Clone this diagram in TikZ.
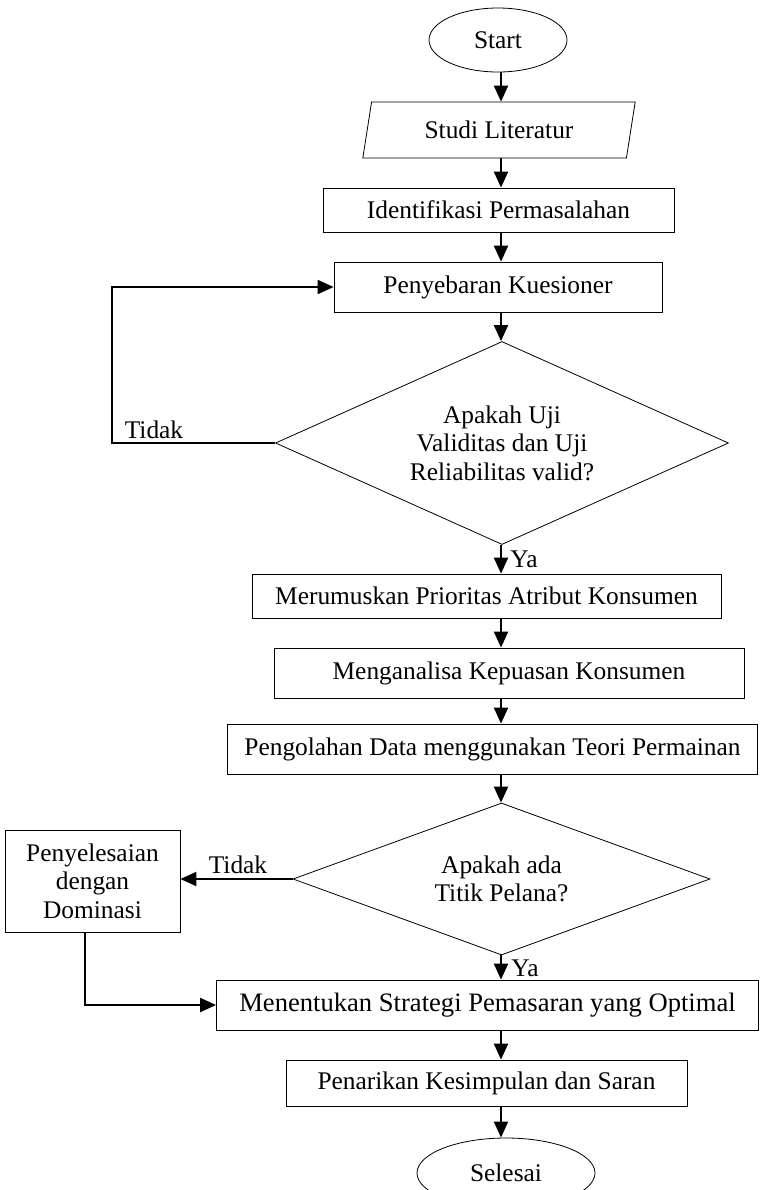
\documentclass[tikz,border=0pt]{standalone}
\usepackage{fontspec}
\setmainfont{Liberation Serif}
\usepackage{tikz}
\usetikzlibrary{shapes.geometric,arrows.meta}
\tikzset{
  txt/.style={font=\fontsize{12.7}{14.25}\selectfont},
  box/.style={rectangle, draw, thin, inner sep=0pt, txt},
  terminal/.style={ellipse, draw, thin, inner sep=0pt, txt},
  io/.style={trapezium, trapezium left angle=74, trapezium right angle=106, trapezium stretches=true, draw, thin, inner sep=0pt, txt},
  decision/.style={diamond, draw, thin, align=center, inner sep=0pt, txt},
  answer/.style={inner sep=0pt, txt},
  arrow/.style={line width=1pt, -{Triangle[length=8pt,width=7pt]}}
}
\begin{document}
\begin{tikzpicture}[x=0.5pt, y=-0.5pt]
  \useasboundingbox (0,0) rectangle (760,1190);
  % Nodes
  \node (start) [terminal, minimum width=69pt, minimum height=32pt] at (498,40) {Start};
  \node (studi) [io, minimum width=137pt, minimum height=28pt] at (499,130) {Studi Literatur};
  \node (ident) [box, minimum width=175.5pt, minimum height=22pt] at (498.5,210) {Identifikasi Permasalahan};
  \node (sebar) [box, minimum width=164pt, minimum height=25pt] at (498,287) {Penyebaran Kuesioner};
  \node (uji) [decision, aspect=2.23, minimum width=226.5pt, minimum height=101.5pt] at (502,443) {Apakah Uji\\Validitas dan Uji\\Reliabilitas valid?};
  \node (rumus) [box, minimum width=234.5pt, minimum height=22pt] at (486.5,596) {Merumuskan Prioritas Atribut Konsumen};
  \node (analisa) [box, minimum width=235pt, minimum height=25pt] at (509,673) {Menganalisa Kepuasan Konsumen};
  \node (olah) [box, minimum width=265pt, minimum height=25pt] at (492.5,749) {Pengolahan Data menggunakan Teori Permainan};
  \node (pelana) [decision, aspect=2.74, minimum width=208.5pt, minimum height=76pt] at (501.5,879) {Apakah ada\\Titik Pelana?};
  \node (domin) [box, minimum width=87.5pt, minimum height=51pt, align=center] at (92.5,881) {Penyelesaian\\dengan\\Dominasi};
  \node (tentu) [box, minimum width=271pt, minimum height=25pt, font=\fontsize{13.3}{14.25}\selectfont] at (487.5,1005) {Menentukan Strategi Pemasaran yang Optimal};
  \node (tarik) [box, minimum width=200.5pt, minimum height=23pt] at (486.5,1083) {Penarikan Kesimpulan dan Saran};
  \node (selesai) [terminal, minimum width=89pt, minimum height=35pt] at (506,1173) {Selesai};

  % Answers
  \node (tidak1) [answer] at (154,430) {Tidak};
  \node (ya1) [answer] at (524,559) {Ya};
  \node (tidak2) [answer] at (238,865) {Tidak};
  \node (ya2) [answer] at (525,968) {Ya};

  \coordinate (spine) at (501,0);
  \coordinate (back) at (112,443);

  % Arrows
  \draw [arrow] (spine |- start.south) -- (spine |- studi.north);
  \draw [arrow] (spine |- studi.south) -- (spine |- ident.north);
  \draw [arrow] (spine |- ident.south) -- (spine |- sebar.north);
  \draw [arrow] (spine |- sebar.south) -- (spine |- uji.north);
  \draw [arrow] (spine |- uji.south) -- (spine |- rumus.north);
  \draw [arrow] (spine |- rumus.south) -- (spine |- analisa.north);
  \draw [arrow] (spine |- analisa.south) -- (spine |- olah.north);
  \draw [arrow] (spine |- olah.south) -- (spine |- pelana.north);
  \draw [arrow] (spine |- pelana.south) -- (spine |- tentu.north);
  \draw [arrow] (spine |- tentu.south) -- (spine |- tarik.north);
  \draw [arrow] (spine |- tarik.south) -- (spine |- selesai.north);
  \draw [arrow] (uji.west) -- (back) |- (sebar.west);
  \draw [arrow] (pelana.west) -- (pelana.west -| domin.east);
  \draw [arrow] ([xshift=-4pt]domin.south) |- (tentu.west);
\end{tikzpicture}
\end{document}
